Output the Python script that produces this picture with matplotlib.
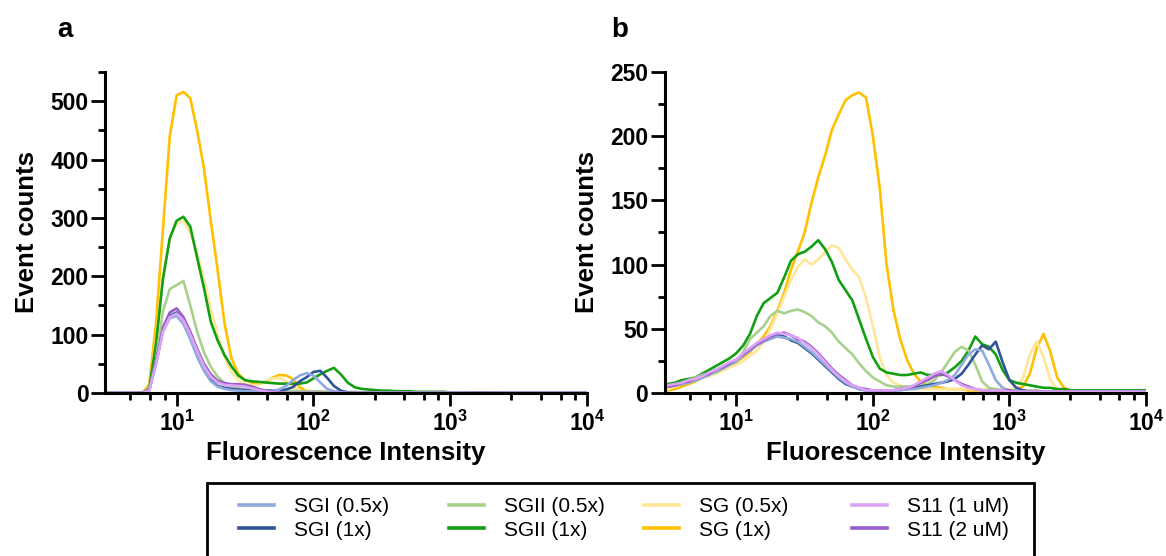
import numpy as np
import matplotlib
matplotlib.use('Agg')
import matplotlib.pyplot as plt
from matplotlib.lines import Line2D
from matplotlib.patches import Rectangle
from matplotlib.ticker import FixedLocator, FixedFormatter

plt.rcParams['font.family'] = ['Liberation Sans', 'DejaVu Sans']
plt.rcParams['mathtext.fontset'] = 'custom'
plt.rcParams['mathtext.rm'] = 'Liberation Sans:bold'
plt.rcParams['mathtext.bf'] = 'Liberation Sans:bold'

# histogram channels, log10 of fluorescence intensity (0.5 .. 4.0, step 0.05)
log_bins = np.round(np.arange(0.5, 4.0001, 0.05), 2)
intensity = 10 ** log_bins

labels = ['SGI (0.5x)', 'SGI (1x)', 'SGII (0.5x)', 'SGII (1x)',
          'SG (0.5x)', 'SG (1x)', 'S11 (1 uM)', 'S11 (2 uM)']
colors = ['#8FAADC', '#2F5597', '#A9D18E', '#12A012',
          '#FFE699', '#FFC000', '#DDA4F6', '#9A5CC8']

# ---- panel a ----
sgi_05_a = [0, 0, 0, 0, 0, 0, 5, 50, 105, 128,
            132, 118, 92, 62, 38, 20, 11, 7, 5, 4,
            3, 3, 3, 3, 4, 6, 12, 22, 30, 34,
            30, 18, 7, 3, 1, 0, 0, 0, 0, 0,
            0, 0, 0, 0, 0, 0, 0, 0, 0, 0,
            0, 0, 0, 0, 0, 0, 0, 0, 0, 0,
            0, 0, 0, 0, 0, 0, 0, 0, 0, 0,
            0]
sgi_1_a = [0, 0, 0, 0, 0, 0, 5, 52, 108, 132,
           138, 122, 96, 66, 40, 22, 12, 9, 7, 6,
           5, 4, 4, 4, 4, 4, 6, 10, 20, 27,
           36, 38, 26, 12, 4, 1, 0, 0, 0, 0,
           0, 0, 0, 0, 0, 0, 0, 0, 0, 0,
           0, 0, 0, 0, 0, 0, 0, 0, 0, 0,
           0, 0, 0, 0, 0, 0, 0, 0, 0, 0,
           0]
sgii_05_a = [0, 0, 0, 0, 0, 0, 6, 55, 140, 178,
             185, 192, 150, 105, 70, 45, 28, 17, 11, 8,
             6, 5, 5, 4, 4, 4, 4, 3, 3, 3,
             3, 3, 2, 2, 2, 2, 2, 1, 1, 1,
             1, 1, 1, 1, 1, 1, 1, 1, 1, 1,
             1, 1, 1, 0, 0, 0, 0, 0, 0, 0,
             0, 0, 0, 0, 0, 0, 0, 0, 0, 0,
             0]
sgii_1_a = [0, 0, 0, 0, 0, 0, 8, 85, 195, 265,
            295, 302, 285, 232, 180, 122, 90, 65, 46, 30,
            22, 20, 19, 18, 17, 16, 16, 16, 16, 18,
            25, 32, 38, 43, 32, 18, 10, 7, 6, 5,
            4, 4, 3, 3, 3, 2, 2, 2, 2, 2,
            1, 1, 1, 1, 1, 1, 1, 0, 0, 0,
            0, 0, 0, 0, 0, 0, 0, 0, 0, 0,
            0]
sg_05_a = [0, 0, 0, 0, 0, 0, 10, 90, 200, 265,
           290, 295, 275, 240, 195, 145, 100, 62, 36, 22,
           15, 13, 14, 20, 25, 26, 20, 10, 4, 1,
           0, 0, 0, 0, 0, 0, 0, 0, 0, 0,
           0, 0, 0, 0, 0, 0, 0, 0, 0, 0,
           0, 0, 0, 0, 0, 0, 0, 0, 0, 0,
           0, 0, 0, 0, 0, 0, 0, 0, 0, 0,
           0]
sg_1_a = [0, 0, 0, 0, 0, 0, 15, 120, 280, 440,
          510, 516, 505, 450, 385, 295, 210, 120, 60, 33,
          22, 18, 16, 18, 26, 31, 30, 24, 10, 3,
          1, 0, 0, 0, 0, 0, 0, 0, 0, 0,
          0, 0, 0, 0, 0, 0, 0, 0, 0, 0,
          0, 0, 0, 0, 0, 0, 0, 0, 0, 0,
          0, 0, 0, 0, 0, 0, 0, 0, 0, 0,
          0]
s11_1_a = [0, 0, 0, 0, 0, 0, 4, 50, 105, 130,
           136, 124, 100, 72, 46, 28, 18, 14, 13, 12,
           11, 8, 5, 3, 1, 0, 0, 0, 0, 0,
           0, 0, 0, 0, 0, 0, 0, 0, 0, 0,
           0, 0, 0, 0, 0, 0, 0, 0, 0, 0,
           0, 0, 0, 0, 0, 0, 0, 0, 0, 0,
           0, 0, 0, 0, 0, 0, 0, 0, 0, 0,
           0]
s11_2_a = [0, 0, 0, 0, 0, 0, 5, 55, 112, 138,
           145, 130, 105, 76, 50, 32, 21, 17, 15, 15,
           14, 11, 7, 4, 2, 1, 0, 0, 0, 0,
           0, 0, 0, 0, 0, 0, 0, 0, 0, 0,
           0, 0, 0, 0, 0, 0, 0, 0, 0, 0,
           0, 0, 0, 0, 0, 0, 0, 0, 0, 0,
           0, 0, 0, 0, 0, 0, 0, 0, 0, 0,
           0]

# ---- panel b ----
sgi_05_b = [5, 6, 7, 8, 10, 12, 14, 17, 19, 22,
            25, 29, 33, 37, 40, 42, 44, 43, 42, 40,
            36, 32, 27, 22, 17, 12, 8, 5, 3, 2,
            2, 2, 2, 2, 2, 3, 3, 4, 5, 6,
            8, 10, 14, 22, 30, 34, 33, 22, 10, 4,
            2, 2, 1, 1, 1, 1, 1, 1, 1, 1,
            1, 1, 1, 1, 1, 1, 1, 1, 1, 1,
            1]
sgi_1_b = [5, 6, 7, 9, 10, 12, 15, 17, 20, 23,
           26, 30, 34, 38, 41, 44, 45, 44, 41, 39,
           35, 31, 26, 21, 16, 11, 7, 5, 3, 2,
           2, 2, 2, 2, 3, 3, 4, 5, 6, 7,
           8, 9, 11, 15, 22, 30, 37, 34, 40, 24,
           10, 4, 2, 1, 1, 1, 1, 1, 1, 1,
           1, 1, 1, 1, 1, 1, 1, 1, 1, 1,
           1]
sgii_05_b = [5, 6, 8, 10, 12, 14, 15, 16, 19, 22,
             24, 32, 42, 47, 52, 60, 64, 62, 64, 65,
             63, 60, 55, 52, 47, 40, 35, 30, 23, 17,
             12, 9, 6, 5, 5, 5, 5, 6, 7, 10,
             16, 24, 32, 36, 33, 22, 9, 4, 3, 2,
             2, 2, 2, 2, 2, 1, 1, 1, 1, 1,
             1, 1, 1, 1, 1, 1, 1, 1, 1, 1,
             1]
sgii_1_b = [7, 8, 10, 11, 12, 15, 18, 21, 24, 27,
            31, 37, 46, 60, 70, 74, 78, 90, 103, 108,
            110, 114, 119, 112, 102, 88, 80, 72, 57, 42,
            28, 19, 16, 15, 14, 14, 15, 16, 14, 14,
            14, 16, 20, 25, 33, 44, 38, 36, 30, 18,
            10, 8, 7, 6, 5, 4, 4, 3, 3, 2,
            2, 2, 2, 2, 2, 2, 2, 2, 2, 2,
            2]
sg_05_b = [3, 5, 7, 9, 10, 12, 13, 15, 17, 20,
           22, 25, 29, 33, 40, 50, 62, 75, 88, 98,
           104, 100, 104, 110, 115, 113, 104, 96, 90, 74,
           52, 28, 14, 8, 6, 4, 3, 3, 3, 3,
           3, 3, 3, 3, 3, 3, 3, 3, 3, 3,
           3, 4, 12, 30, 40, 28, 10, 3, 2, 1,
           1, 1, 1, 1, 1, 1, 1, 1, 1, 1,
           1]
sg_1_b = [2, 3, 5, 7, 9, 12, 14, 16, 18, 21,
          24, 28, 32, 38, 44, 52, 64, 78, 96, 110,
          125, 148, 168, 185, 205, 217, 228, 232, 234, 230,
          200, 160, 100, 65, 42, 26, 15, 9, 6, 5,
          4, 3, 3, 3, 2, 2, 2, 2, 2, 2,
          2, 3, 5, 15, 35, 46, 32, 12, 4, 2,
          1, 1, 1, 1, 1, 1, 1, 1, 1, 1,
          1]
s11_1_b = [6, 7, 8, 10, 11, 13, 16, 18, 21, 24,
           26, 31, 35, 39, 42, 45, 47, 46, 45, 43,
           39, 35, 30, 24, 18, 13, 9, 6, 4, 2,
           2, 2, 2, 2, 3, 4, 6, 9, 12, 15,
           17, 14, 10, 6, 4, 3, 2, 2, 2, 2,
           1, 1, 1, 1, 1, 1, 1, 1, 1, 1,
           1, 1, 1, 1, 1, 1, 1, 1, 1, 1,
           1]
s11_2_b = [5, 6, 8, 9, 11, 13, 15, 18, 20, 23,
           26, 30, 34, 38, 41, 44, 46, 47, 45, 42,
           40, 36, 31, 25, 19, 14, 10, 6, 4, 3,
           2, 2, 2, 2, 3, 4, 5, 8, 10, 13,
           15, 13, 10, 7, 5, 3, 2, 2, 2, 2,
           2, 1, 1, 1, 1, 1, 1, 1, 1, 1,
           1, 1, 1, 1, 1, 1, 1, 1, 1, 1,
           1]

panel_a = [sgi_05_a, sgi_1_a, sgii_05_a, sgii_1_a, sg_05_a, sg_1_a, s11_1_a, s11_2_a]
panel_b = [sgi_05_b, sgi_1_b, sgii_05_b, sgii_1_b, sg_05_b, sg_1_b, s11_1_b, s11_2_b]

# drawing order: yellows at the back, S11 (1 uM) on top
draw_order = [5, 4, 3, 2, 1, 0, 7, 6]

fig = plt.figure(figsize=(11.66, 5.56), dpi=100)
ax_a = fig.add_axes([0.0901, 0.2932, 0.4134, 0.5773])
ax_b = fig.add_axes([0.5703, 0.2932, 0.4125, 0.5773])


def style_axis(ax, ymax, ymajor, ystep):
    ax.set_xscale('log')
    ax.set_xlim(3, 1e4)
    ax.set_ylim(0, ymax)
    for side in ['top', 'right']:
        ax.spines[side].set_visible(False)
    for side in ['left', 'bottom']:
        ax.spines[side].set_linewidth(2.2)
    majors = [10, 100, 1000, 10000]
    minors = [10 ** k * (1 + 1.8 * j) for k in range(0, 4) for j in range(1, 5)]
    minors = [m for m in minors if m >= 3]
    ax.xaxis.set_major_locator(FixedLocator(majors))
    ax.xaxis.set_major_formatter(FixedFormatter(
        [r'$\mathbf{10^{%d}}$' % k for k in range(1, 5)]))
    ax.xaxis.set_minor_locator(FixedLocator(minors))
    ax.xaxis.set_minor_formatter(FixedFormatter([''] * len(minors)))
    ax.set_yticks(np.arange(0, ymajor + 1, ystep))
    ax.set_yticks(np.arange(ystep / 2, ymax + 1, ystep), minor=True)
    ax.tick_params(axis='both', which='major', length=10, width=2, labelsize=16.5, pad=2)
    ax.tick_params(axis='x', which='major', length=9.5, pad=3)
    ax.tick_params(axis='both', which='minor', length=5, width=2)
    for lbl in ax.get_yticklabels():
        lbl.set_fontweight('bold')
    ax.set_xlabel('Fluorescence Intensity', fontsize=18.5, fontweight='bold', labelpad=4)
    ax.set_ylabel('Event counts', fontsize=18.5, fontweight='bold', labelpad=8)


for ax, data in [(ax_a, panel_a), (ax_b, panel_b)]:
    for i in draw_order:
        ax.plot(intensity, data[i], color=colors[i], lw=1.9, solid_joinstyle='round')

style_axis(ax_a, 550, 500, 100)
style_axis(ax_b, 250, 250, 50)

fig.text(65 / 1166, 1 - 37 / 556, 'a', fontsize=20, fontweight='bold', ha='center', va='baseline')
fig.text(620 / 1166, 1 - 37 / 556, 'b', fontsize=20, fontweight='bold', ha='center', va='baseline')

# legend: four columns of two entries inside one framed box
col_x = [239 / 1166, 449 / 1166, 644 / 1166, 852 / 1166]
for c in range(4):
    idx = [2 * c, 2 * c + 1]
    handles = [Line2D([], [], color=colors[i], lw=2.6) for i in idx]
    fig.legend(handles, [labels[i] for i in idx], loc='center left',
               bbox_to_anchor=(col_x[c], 1 - 518.5 / 556), frameon=False,
               fontsize=15, handlelength=1.7, handletextpad=0.95,
               labelspacing=0.2, borderpad=0, borderaxespad=0)

fig.add_artist(Rectangle((207 / 1166, -0.1), 827 / 1166, 0.1 + 1 - 483 / 556,
                         transform=fig.transFigure, fill=False, lw=2,
                         edgecolor='black', clip_on=False))

fig.savefig('out.png', dpi=100)
